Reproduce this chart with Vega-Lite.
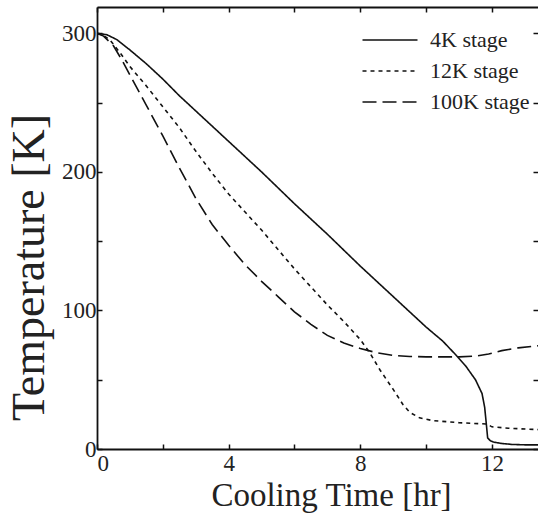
{
  "$schema": "https://vega.github.io/schema/vega-lite/v6.json",
  "width": 441,
  "height": 442,
  "autosize": {"type": "none"},
  "padding": {"left": 97, "top": 7, "right": 0, "bottom": 76},
  "background": "white",
  "config": {
    "view": {"stroke": null},
    "axis": {
      "grid": false,
      "domainColor": "#111",
      "domainWidth": 1.8,
      "tickColor": "#111",
      "tickWidth": 1.5,
      "labelColor": "#222",
      "titleFontWeight": "normal",
      "titleColor": "#222"
    },
    "legend": {
      "rowPadding": 8,
      "padding": 0,
      "labelFont": "Liberation Serif",
      "labelFontSize": 22,
      "labelColor": "#222"
    }
  },
  "data": {
    "values": [
      {"t": 0, "T": 300, "stage": "4K stage"},
      {"t": 0.3, "T": 299, "stage": "4K stage"},
      {"t": 0.6, "T": 295.5, "stage": "4K stage"},
      {"t": 1.0, "T": 288, "stage": "4K stage"},
      {"t": 1.5, "T": 278, "stage": "4K stage"},
      {"t": 2.0, "T": 267, "stage": "4K stage"},
      {"t": 2.5, "T": 255, "stage": "4K stage"},
      {"t": 3.0, "T": 244, "stage": "4K stage"},
      {"t": 4.0, "T": 222, "stage": "4K stage"},
      {"t": 5.0, "T": 200, "stage": "4K stage"},
      {"t": 6.0, "T": 177, "stage": "4K stage"},
      {"t": 7.0, "T": 155, "stage": "4K stage"},
      {"t": 8.0, "T": 132, "stage": "4K stage"},
      {"t": 9.0, "T": 110, "stage": "4K stage"},
      {"t": 10.0, "T": 88, "stage": "4K stage"},
      {"t": 10.5, "T": 78, "stage": "4K stage"},
      {"t": 10.9, "T": 68, "stage": "4K stage"},
      {"t": 11.2, "T": 60, "stage": "4K stage"},
      {"t": 11.5, "T": 50, "stage": "4K stage"},
      {"t": 11.7, "T": 40, "stage": "4K stage"},
      {"t": 11.78, "T": 30, "stage": "4K stage"},
      {"t": 11.83, "T": 18, "stage": "4K stage"},
      {"t": 11.87, "T": 8, "stage": "4K stage"},
      {"t": 11.95, "T": 6, "stage": "4K stage"},
      {"t": 12.05, "T": 5, "stage": "4K stage"},
      {"t": 12.3, "T": 4, "stage": "4K stage"},
      {"t": 12.6, "T": 3.3, "stage": "4K stage"},
      {"t": 13.0, "T": 3, "stage": "4K stage"},
      {"t": 13.4, "T": 3, "stage": "4K stage"},

      {"t": 0, "T": 300, "stage": "12K stage"},
      {"t": 0.2, "T": 298.5, "stage": "12K stage"},
      {"t": 0.4, "T": 295, "stage": "12K stage"},
      {"t": 0.7, "T": 286, "stage": "12K stage"},
      {"t": 1.0, "T": 276, "stage": "12K stage"},
      {"t": 1.5, "T": 262, "stage": "12K stage"},
      {"t": 2.0, "T": 247, "stage": "12K stage"},
      {"t": 2.5, "T": 232, "stage": "12K stage"},
      {"t": 3.0, "T": 215, "stage": "12K stage"},
      {"t": 3.5, "T": 199, "stage": "12K stage"},
      {"t": 4.0, "T": 184, "stage": "12K stage"},
      {"t": 4.5, "T": 171, "stage": "12K stage"},
      {"t": 5.0, "T": 158, "stage": "12K stage"},
      {"t": 5.5, "T": 144, "stage": "12K stage"},
      {"t": 6.0, "T": 130, "stage": "12K stage"},
      {"t": 6.5, "T": 117, "stage": "12K stage"},
      {"t": 7.0, "T": 104, "stage": "12K stage"},
      {"t": 7.5, "T": 92, "stage": "12K stage"},
      {"t": 8.0, "T": 79, "stage": "12K stage"},
      {"t": 8.3, "T": 69, "stage": "12K stage"},
      {"t": 8.6, "T": 57, "stage": "12K stage"},
      {"t": 9.0, "T": 43, "stage": "12K stage"},
      {"t": 9.3, "T": 32, "stage": "12K stage"},
      {"t": 9.5, "T": 26.5, "stage": "12K stage"},
      {"t": 9.8, "T": 22.5, "stage": "12K stage"},
      {"t": 10.2, "T": 20.5, "stage": "12K stage"},
      {"t": 11.0, "T": 19, "stage": "12K stage"},
      {"t": 11.85, "T": 18, "stage": "12K stage"},
      {"t": 12.0, "T": 16, "stage": "12K stage"},
      {"t": 12.5, "T": 15, "stage": "12K stage"},
      {"t": 13.4, "T": 14, "stage": "12K stage"},

      {"t": 0, "T": 300, "stage": "100K stage"},
      {"t": 0.2, "T": 298, "stage": "100K stage"},
      {"t": 0.5, "T": 291, "stage": "100K stage"},
      {"t": 0.75, "T": 281, "stage": "100K stage"},
      {"t": 1.0, "T": 270, "stage": "100K stage"},
      {"t": 1.5, "T": 248, "stage": "100K stage"},
      {"t": 2.0, "T": 226, "stage": "100K stage"},
      {"t": 2.5, "T": 203, "stage": "100K stage"},
      {"t": 3.0, "T": 181, "stage": "100K stage"},
      {"t": 3.5, "T": 162, "stage": "100K stage"},
      {"t": 4.0, "T": 147, "stage": "100K stage"},
      {"t": 4.5, "T": 133, "stage": "100K stage"},
      {"t": 5.0, "T": 121, "stage": "100K stage"},
      {"t": 5.5, "T": 110, "stage": "100K stage"},
      {"t": 6.0, "T": 99, "stage": "100K stage"},
      {"t": 6.5, "T": 90, "stage": "100K stage"},
      {"t": 7.0, "T": 82, "stage": "100K stage"},
      {"t": 7.5, "T": 76.5, "stage": "100K stage"},
      {"t": 8.0, "T": 72.5, "stage": "100K stage"},
      {"t": 8.5, "T": 69.5, "stage": "100K stage"},
      {"t": 9.0, "T": 67.5, "stage": "100K stage"},
      {"t": 9.5, "T": 66.8, "stage": "100K stage"},
      {"t": 10.0, "T": 66.5, "stage": "100K stage"},
      {"t": 10.5, "T": 66.5, "stage": "100K stage"},
      {"t": 11.0, "T": 66.5, "stage": "100K stage"},
      {"t": 11.5, "T": 67, "stage": "100K stage"},
      {"t": 11.9, "T": 68.5, "stage": "100K stage"},
      {"t": 12.3, "T": 71, "stage": "100K stage"},
      {"t": 12.8, "T": 73, "stage": "100K stage"},
      {"t": 13.4, "T": 74.5, "stage": "100K stage"}
    ]
  },
  "layer": [
    {
      "mark": {"type": "line", "color": "#111", "strokeWidth": 1.6, "clip": true},
      "encoding": {
        "x": {
          "field": "t", "type": "quantitative",
          "scale": {"domain": [0, 13.4], "nice": false, "zero": false},
          "axis": {
            "orient": "bottom",
            "values": [0, 2, 4, 6, 8, 10, 12],
            "labelExpr": "datum.value % 4 == 0 ? datum.label : ''",
            "labelFont": "Liberation Serif",
            "labelFontSize": 23,
            "tickSize": -5,
            "labelPadding": 8,
            "title": "Cooling Time [hr]",
            "titleFont": "Liberation Serif",
            "titleFontSize": 33,
            "titleX": 234,
            "titleY": 56,
            "titleAlign": "center",
            "titleBaseline": "alphabetic"
          }
        },
        "y": {
          "field": "T", "type": "quantitative",
          "scale": {"domain": [0, 319], "nice": false},
          "axis": {
            "orient": "left",
            "values": [0, 50, 100, 150, 200, 250, 300],
            "labelExpr": "datum.value % 100 == 0 ? datum.label : ''",
            "labelFont": "Liberation Serif",
            "labelFontSize": 23,
            "tickSize": -5,
            "labelPadding": 6,
            "title": "Temperature [K]",
            "titleFont": "Liberation Serif",
            "titleFontSize": 46,
            "titleAngle": -90,
            "titleX": -54,
            "titleY": 260,
            "titleAlign": "center",
            "titleBaseline": "alphabetic"
          }
        },
        "strokeDash": {
          "field": "stage", "type": "nominal",
          "scale": {
            "domain": ["4K stage", "12K stage", "100K stage"],
            "range": [[1, 0], [4, 4], [14, 6]]
          },
          "legend": {
            "title": null,
            "orient": "none",
            "legendX": 281,
            "legendY": 21,
            "padding": 0,
            "symbolType": "M-2.5,0H2.5",
            "symbolSize": 484,
            "symbolStrokeWidth": 1.6,
            "symbolStrokeColor": "#111",
            "rowPadding": 8,
            "labelOffset": 28,
            "labelFont": "Liberation Serif",
            "labelFontSize": 22,
            "labelColor": "#222"
          }
        }
      }
    },
    {
      "mark": {"type": "line", "strokeOpacity": 0, "clip": true},
      "encoding": {
        "x": {
          "field": "t", "type": "quantitative",
          "axis": {
            "orient": "top",
            "values": [0, 2, 4, 6, 8, 10, 12],
            "labels": false,
            "tickSize": -5,
            "title": null
          }
        },
        "y": {
          "field": "T", "type": "quantitative",
          "axis": {
            "orient": "right",
            "values": [0, 50, 100, 150, 200, 250, 300],
            "labels": false,
            "domain": false,
            "tickSize": -5,
            "title": null
          }
        },
        "detail": {"field": "stage"}
      }
    }
  ],
  "resolve": {"axis": {"x": "independent", "y": "independent"}}
}
